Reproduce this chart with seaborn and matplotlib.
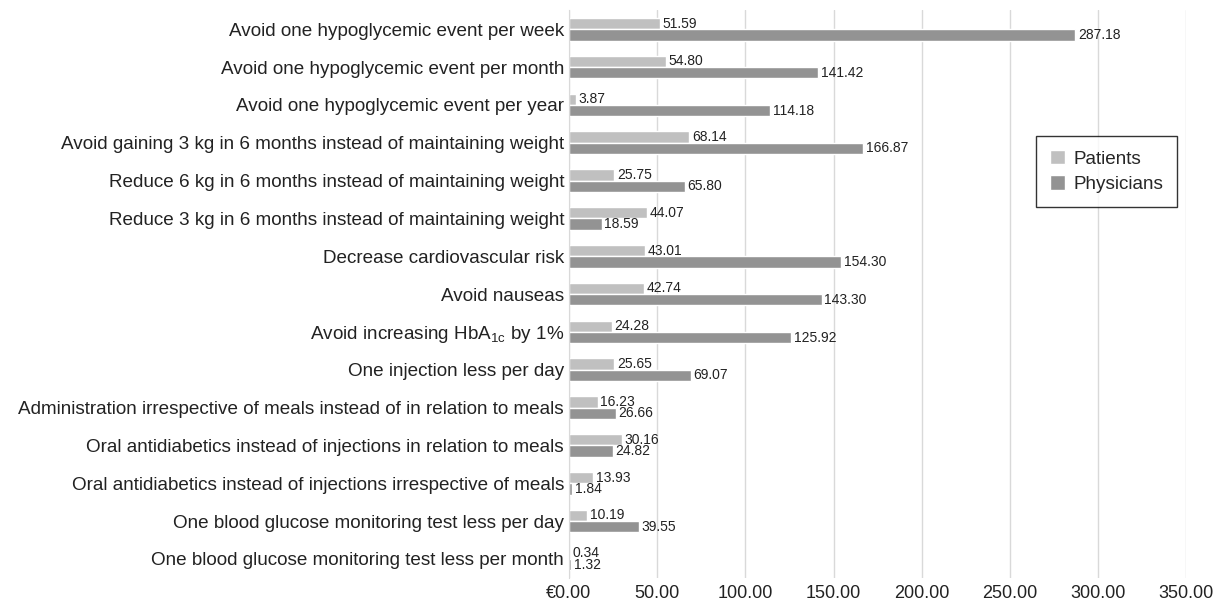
import pandas as pd
import matplotlib.pyplot as plt
import seaborn as sns

categories = [
    "Avoid one hypoglycemic event per week",
    "Avoid one hypoglycemic event per month",
    "Avoid one hypoglycemic event per year",
    "Avoid gaining 3 kg in 6 months instead of maintaining weight",
    "Reduce 6 kg in 6 months instead of maintaining weight",
    "Reduce 3 kg in 6 months instead of maintaining weight",
    "Decrease cardiovascular risk",
    "Avoid nauseas",
    "Avoid increasing HbA$_{\\mathrm{1c}}$ by 1%",
    "One injection less per day",
    "Administration irrespective of meals instead of in relation to meals",
    "Oral antidiabetics instead of injections in relation to meals",
    "Oral antidiabetics instead of injections irrespective of meals",
    "One blood glucose monitoring test less per day",
    "One blood glucose monitoring test less per month",
]
patients = [51.59, 54.80, 3.87, 68.14, 25.75, 44.07, 43.01, 42.74, 24.28,
            25.65, 16.23, 30.16, 13.93, 10.19, 0.34]
physicians = [287.18, 141.42, 114.18, 166.87, 65.80, 18.59, 154.30, 143.30,
              125.92, 69.07, 26.66, 24.82, 1.84, 39.55, 1.32]
groups = ["Patients", "Physicians"]
x_ticks = [0, 50, 100, 150, 200, 250, 300, 350]

df = pd.DataFrame({
    "item": categories * 2,
    "value": patients + physicians,
    "group": [groups[0]] * len(categories) + [groups[1]] * len(categories),
})

sns.set_style("white")
plt.rcParams["font.family"] = ["Liberation Sans", "DejaVu Sans"]
plt.rcParams["mathtext.fontset"] = "custom"
plt.rcParams["mathtext.rm"] = "Liberation Sans"
plt.rcParams["mathtext.it"] = "Liberation Sans:italic"

fig = plt.figure(figsize=(12.13, 6.05), dpi=100)
ax = fig.add_axes([0.469, 0.045, 0.509, 0.938])

sns.barplot(data=df, y="item", x="value", hue="group", orient="h",
            palette=["#c0c0c0", "#939393"], width=0.6, ax=ax,
            order=categories, hue_order=groups)

for cont in ax.containers:
    ax.bar_label(cont, fmt="%.2f", padding=2, fontsize=10, color="#222222")

ax.set_xlim(0, 350)
ax.set_xticks(x_ticks)
ax.set_xticklabels(["€0.00" if t == 0 else f"{t:.2f}" for t in x_ticks])
ax.xaxis.grid(True, color="#d9d9d9", linewidth=1)
ax.set_axisbelow(True)
ax.set_xlabel("")
ax.set_ylabel("")
ax.tick_params(axis="y", length=0, labelsize=13.6, colors="#222222")
ax.tick_params(axis="x", length=0, labelsize=13, colors="#222222", pad=5)
for s in ["top", "right", "bottom"]:
    ax.spines[s].set_visible(False)
ax.spines["left"].set_color("#d9d9d9")

leg = ax.legend(loc="upper right", bbox_to_anchor=(0.985, 0.779), fontsize=13.6,
                frameon=True, fancybox=False, edgecolor="black",
                borderaxespad=0, handlelength=0.8, handleheight=0.8,
                handletextpad=0.4, borderpad=0.75, labelspacing=0.4)
leg.get_frame().set_linewidth(1.0)

fig.savefig("out.png", dpi=100)
